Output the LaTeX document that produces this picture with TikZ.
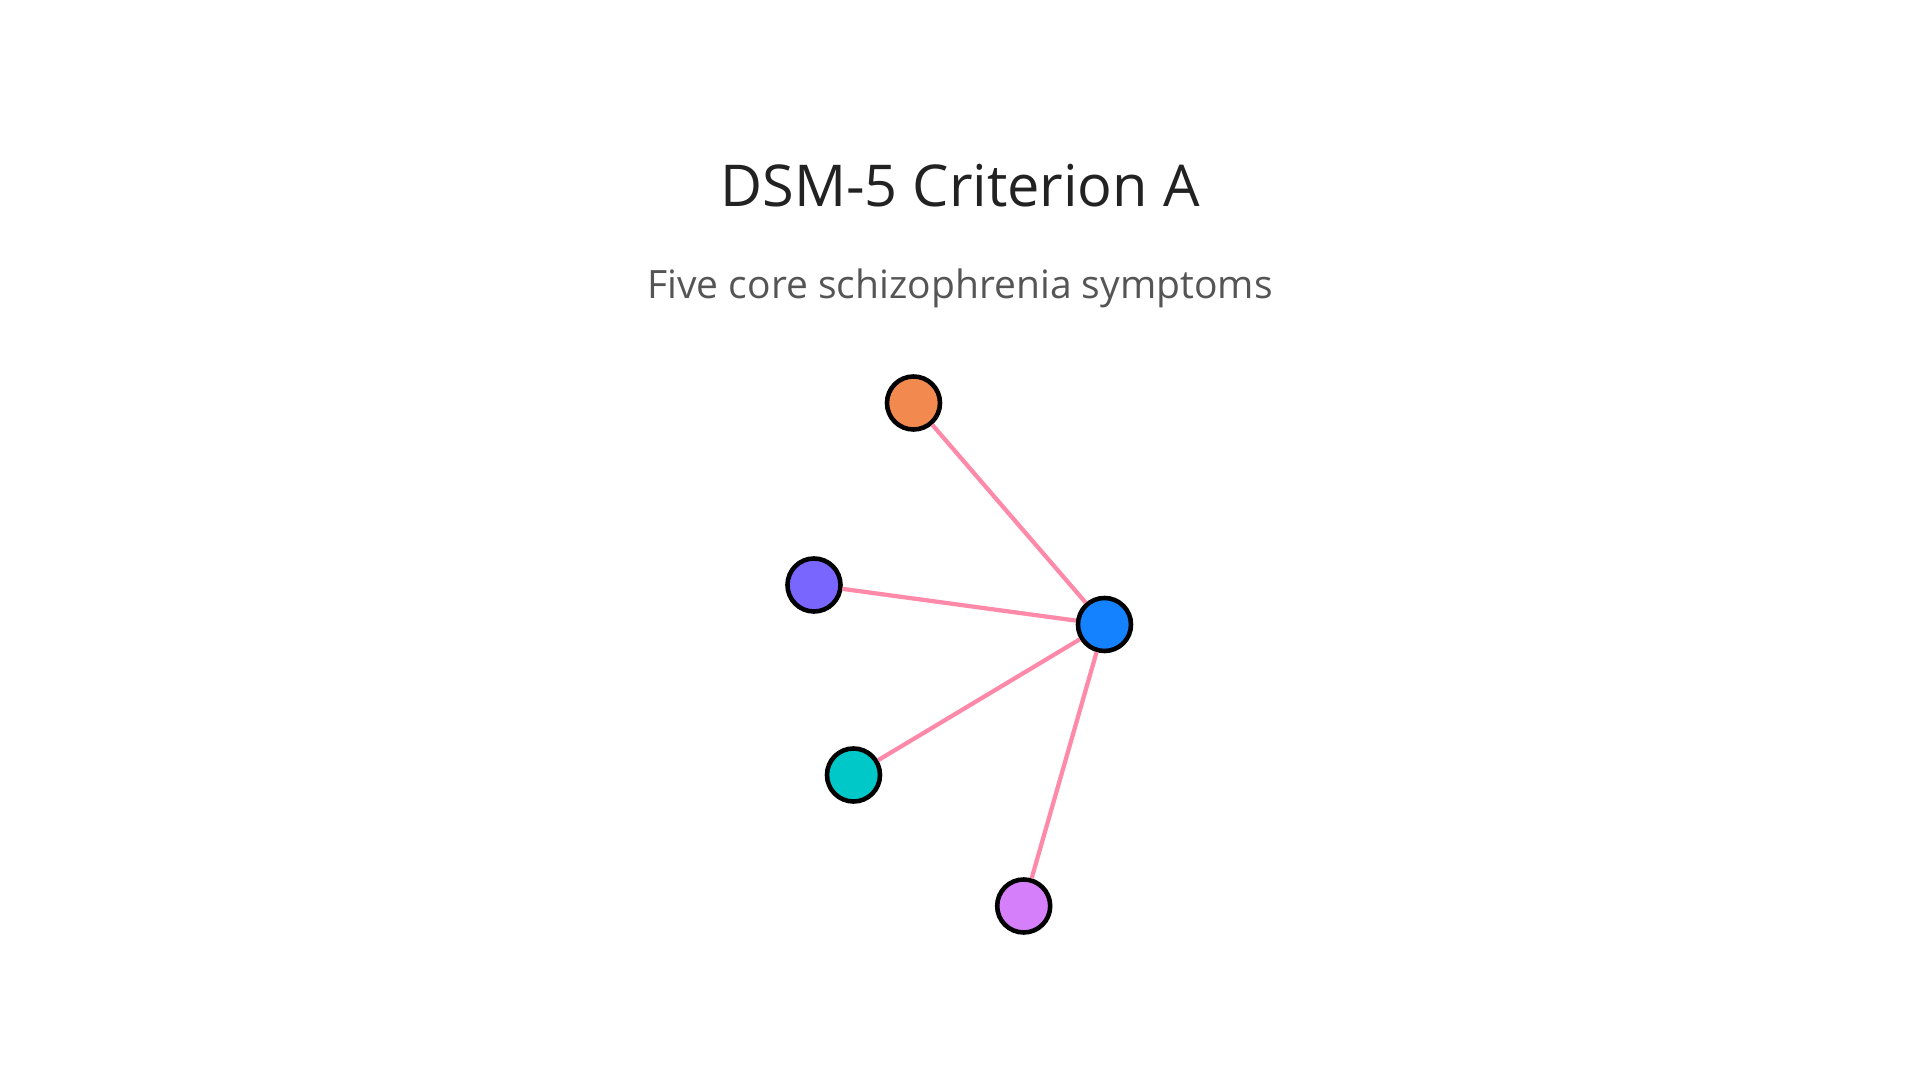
\documentclass[tikz,border=0pt]{standalone}
\usepackage{fontspec}
\setmainfont{Open Sans}
\definecolor{cOrange}{HTML}{F28A50}
\definecolor{cPurple}{HTML}{7866FF}
\definecolor{cBlue}{HTML}{1482FF}
\definecolor{cTeal}{HTML}{00C8C8}
\definecolor{cViolet}{HTML}{D580FA}
\definecolor{cEdge}{HTML}{FF89A8}
\definecolor{cTitle}{HTML}{222222}
\definecolor{cSub}{HTML}{555555}
\tikzset{
  dot/.style={circle, draw=black, line width=1.3pt, inner sep=0pt, minimum size=0.53cm},
  link/.style={draw=cEdge, line width=1.2pt},
  titletext/.style={text=cTitle, font=\fontsize{16.4}{19}\selectfont, anchor=base},
  subtext/.style={text=cSub, font=\fontsize{11.1}{13}\selectfont, anchor=base}
}
\begin{document}
\begin{tikzpicture}[x=0.01cm, y=-0.01cm]
\useasboundingbox (0,0) rectangle (1920,1080);
\fill[white] (0,0) rectangle (1920,1080);
\node[titletext] (title) at (960,207) {DSM-5 Criterion A};
\node[subtext] (sub) at (960,299) {Five core schizophrenia symptoms};
\node[dot, fill=cOrange] (orange) at (913.5,403) {};
\node[dot, fill=cPurple] (purple) at (814,585) {};
\node[dot, fill=cBlue] (blue) at (1104.5,624.5) {};
\node[dot, fill=cTeal] (teal) at (853.5,775) {};
\node[dot, fill=cViolet] (violet) at (1023.7,906) {};
\draw[link] (orange) -- (blue);
\draw[link] (purple) -- (blue);
\draw[link] (teal) -- (blue);
\draw[link] (violet) -- (blue);
\end{tikzpicture}
\end{document}
